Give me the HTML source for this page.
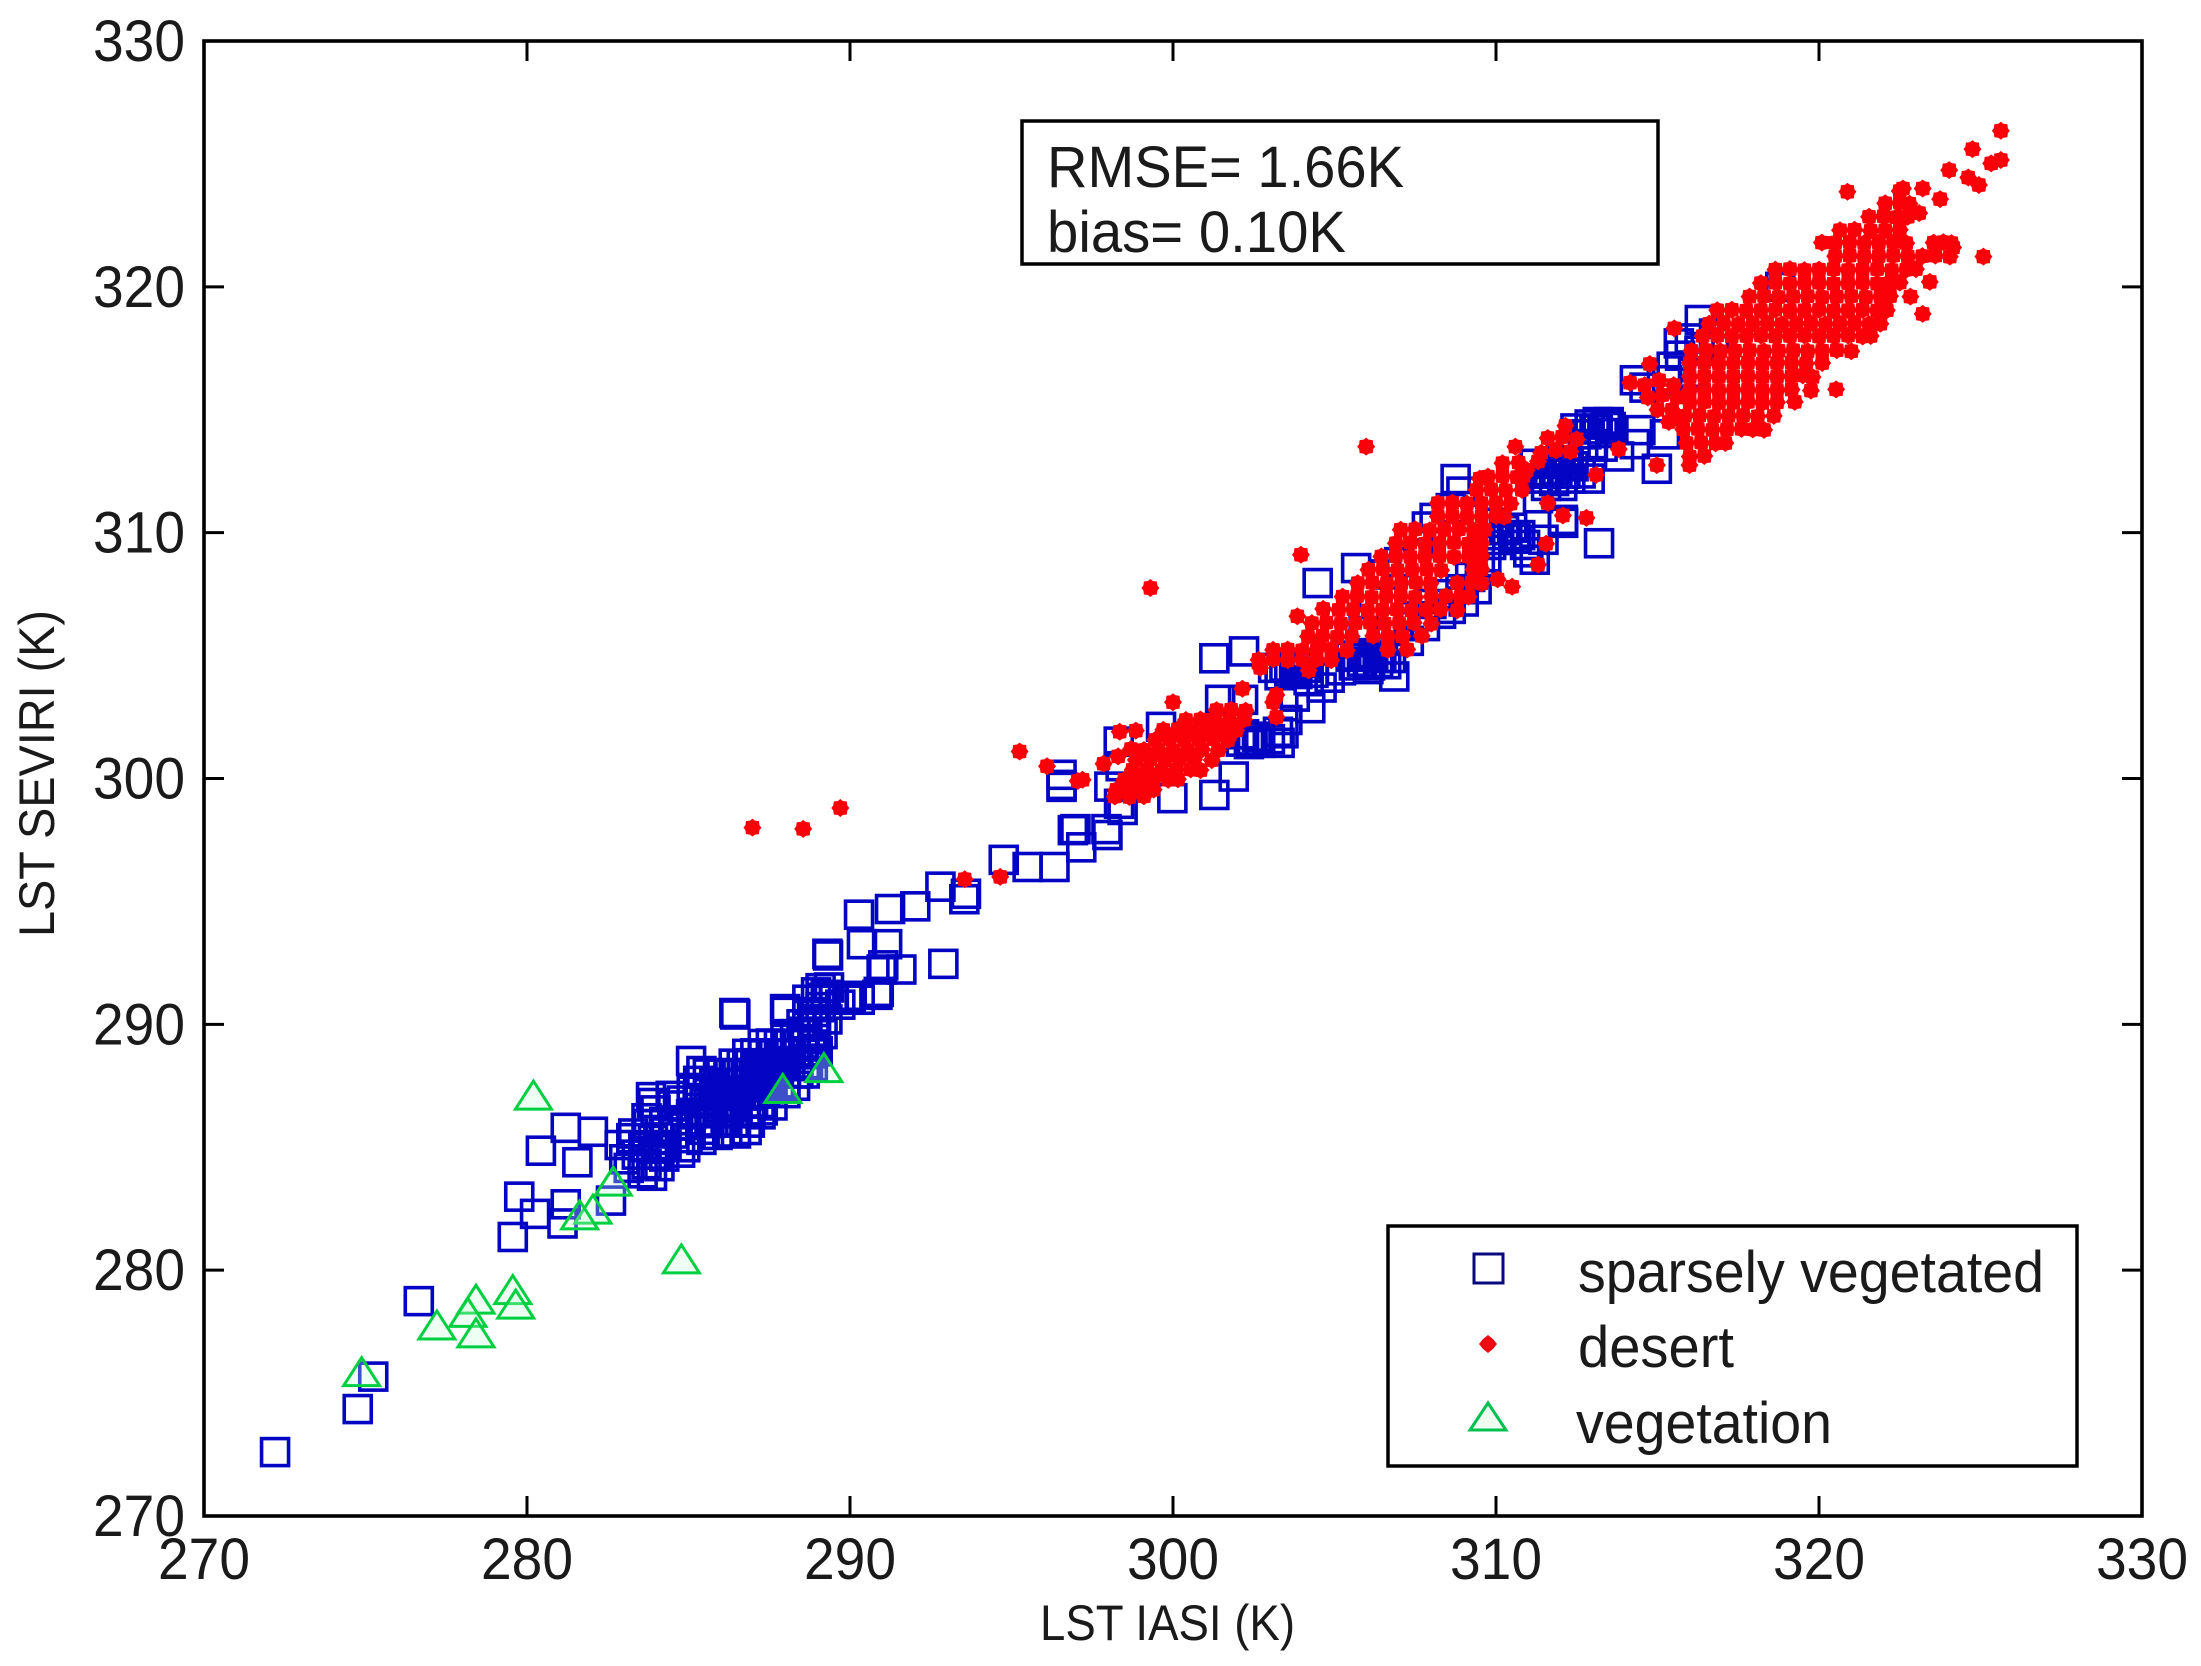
<!DOCTYPE html>
<html>
<head>
<meta charset="utf-8">
<title>LST SEVIRI vs LST IASI</title>
<style>
html,body{margin:0;padding:0;background:#fff;}
svg{display:block;}
text{font-family:"Liberation Sans",sans-serif;fill:#1a1a1a;}
</style>
</head>
<body>
<svg id="chart" xmlns="http://www.w3.org/2000/svg" width="2201" height="1666" viewBox="0 0 2201 1666">
  <rect x="0" y="0" width="2201" height="1666" fill="#ffffff"/>
  <g id="marks-sparse"></g>
  <g id="marks-desert"></g>
  <g id="marks-veg"></g>
  <g id="axes"></g>
  <text x="1040" y="1640" font-size="50" textLength="255" lengthAdjust="spacingAndGlyphs">LST IASI (K)</text>
  <text transform="translate(54,937) rotate(-90)" font-size="50" textLength="327" lengthAdjust="spacingAndGlyphs">LST SEVIRI (K)</text>
  <g>
    <rect x="1022" y="121" width="636" height="143" fill="#ffffff" stroke="#000000" stroke-width="3.5"/>
    <text x="1047" y="187" font-size="58" textLength="357" lengthAdjust="spacingAndGlyphs">RMSE= 1.66K</text>
    <text x="1047" y="252" font-size="58" textLength="299" lengthAdjust="spacingAndGlyphs">bias= 0.10K</text>
  </g>
  <g>
    <rect x="1388" y="1226" width="689" height="240" fill="#ffffff" stroke="#000000" stroke-width="3.5"/>
    <rect x="1474" y="1254" width="29" height="29" fill="none" stroke="#08087f" stroke-width="3"/>
    <polygon points="1488,1335 1493,1339 1497,1344 1493,1349 1488,1353 1483,1349 1479,1344 1483,1339" fill="#ee0a14"/>
    <polygon points="1488,1403 1470,1430 1506,1430" fill="#eefff2" stroke="#00c050" stroke-width="3"/>
    <text x="1578" y="1292" font-size="58" textLength="466" lengthAdjust="spacingAndGlyphs">sparsely vegetated</text>
    <text x="1578" y="1367" font-size="58" textLength="156" lengthAdjust="spacingAndGlyphs">desert</text>
    <text x="1576" y="1443" font-size="58" textLength="256" lengthAdjust="spacingAndGlyphs">vegetation</text>
  </g>
</svg>
<script>
const xTicks=[270,280,290,300,310,320,330];
const yTicks=[270,280,290,300,310,320,330];

const sparselyVegetated=[
[272.2,272.6],[274.76,274.35],[275.24,275.67],[276.65,278.74],[279.56,281.35],[279.76,282.99],[280.25,282.29],[281.1,281.9],[281.2,282.68],[281.56,284.39],[280.43,284.86],[281.2,285.79],[282.04,285.63],[282.6,282.83],[283.87,283.84],
[283.58,283.94],[283.23,285.37],[283.01,284.51],[283.88,286.8],[284.45,287.09],[283.75,285.94],[284.32,285.09],[284.1,284.23],[284.97,285.37],[286.45,290.4],[288.02,290.51],[289.1,291.08],[289.32,292.8],[290.28,294.46],[290.37,293.26],[291.15,293.26],[291.24,294.69],[292.02,294.8],[292.8,295.6],[290.98,292.23],[291.59,292.23],[290.85,291.2],[290.02,291.08],[292.89,292.46],[293.54,295.09],[293.59,295.31],[294.76,296.69],[295.5,296.4],[296.33,296.4],[296.55,299.66],[296.98,297.94],[297.16,297.2],[297.94,297.94],[298.33,298.97],
[286.42,290.46],[287.99,290.62],[289.3,292.87],[285.08,288.51],[283.84,287.04],[284.25,286.02],[287.23,286.34],[286.47,285.56],[285.5,285.71],[284.74,284.78],[283.29,285.56],[282.87,285.09],[283.7,284.31],[283.15,284.16],[284.25,284.62],[289.09,291.47],[289.09,290.7],[289.92,291.16],[290.89,291.32],[291.03,292.4],[288.68,290.38],[288.68,291.0],[283.7,286.18],[283.98,286.5],[285.08,286.34],[284.53,285.56],[285.77,286.02],
[285.4,286.0],[285.65,285.98],[285.9,286.05],[286.15,286.0],[286.4,286.02],
[285.52,286.4],[285.77,286.42],[286.02,286.38],[286.27,286.4],[286.52,286.43],[286.77,286.4],[286.92,286.38],
[285.5,286.8],[285.75,286.78],[286.0,286.82],[286.25,286.8],[286.5,286.8],[286.75,286.77],[287.0,286.82],[287.2,286.8],
[285.62,287.2],[285.87,287.22],[286.12,287.18],[286.37,287.2],[286.62,287.22],[286.87,287.2],[287.12,287.18],[287.37,287.2],[287.6,287.22],
[285.8,287.6],[286.05,287.58],[286.3,287.62],[286.55,287.6],[286.8,287.6],[287.05,287.58],[287.3,287.62],[287.55,287.6],[287.8,287.6],[288.0,287.58],
[286.02,288.0],[286.27,288.02],[286.52,287.98],[286.77,288.0],[287.02,288.02],[287.27,288.0],[287.52,287.98],[287.77,288.0],[288.02,288.02],[288.4,288.0],
[286.4,288.4],[286.65,288.38],[286.9,288.42],[287.15,288.4],[287.4,288.4],[287.65,288.38],[287.9,288.42],[288.15,288.4],[288.4,288.4],[288.7,288.38],
[286.82,288.8],[287.07,288.82],[287.32,288.78],[287.57,288.8],[287.82,288.82],[288.07,288.8],[288.32,288.78],[288.57,288.8],[288.8,288.82],
[287.3,289.2],[287.55,289.22],[287.8,289.18],[288.05,289.2],[288.3,289.2],[288.55,289.22],[288.9,289.18],
[284.3,285.6],[284.6,286.1],[284.9,285.9],[285.2,286.4],[284.5,286.7],[284.8,286.9],[285.1,287.3],[285.35,286.9],[285.3,287.7],[285.4,288.1],[285.6,288.0],[283.9,285.3],[284.2,285.0],[283.6,285.0],[283.4,284.7],[284.0,284.7],[284.9,285.0],[285.4,285.3],[285.9,285.5],[286.2,285.6],[286.8,285.7],[286.9,286.0],[287.3,286.5],[287.6,286.7],[288.0,287.2],[288.3,287.5],[288.6,288.0],[288.85,288.3],[289.0,288.9],[289.15,289.6],[288.9,289.7],[288.6,289.7],[288.3,289.6],[288.0,289.6],[289.3,290.2],[288.95,290.1],[288.5,290.0],[289.25,291.2],[289.35,291.5],[288.95,291.3],[289.5,291.0],[289.7,290.8],[290.3,291.0],[288.9,290.5],
[296.9,297.9],[297.97,297.7],[298.44,298.72],[298.03,299.67],[296.55,299.74],[296.55,300.15],[298.32,301.5],[298.38,300.5],[299.63,302.1],[299.98,299.2],[301.28,299.33],[301.88,300.08],[301.46,303.2],[302.17,303.2],[301.28,304.89],[302.2,305.17],[303.42,301.84],[303.54,302.38],[304.25,302.86],[303.77,303.33],[306.85,304.15],[304.48,307.95],[305.67,308.56],[307.86,310.25],[308.75,312.18],[308.93,311.67],[313.19,309.57],[311.47,309.71],[312.07,310.52],
[302.1,301.5],[302.35,301.4],[302.6,301.7],[302.2,301.8],[302.45,301.55],[302.7,301.45],[303.0,301.6],[303.3,301.45],[303.25,301.9],
[303.3,304.2],[303.6,304.35],[303.85,304.25],[304.1,304.5],[303.45,304.55],[303.75,304.6],[304.0,304.7],[304.35,304.3],[303.1,304.5],[304.6,303.7],[304.2,304.0],
[305.6,304.6],[305.85,304.75],[306.1,304.6],[306.35,304.7],[306.6,304.65],[305.7,305.0],[305.95,305.1],[306.2,305.0],[306.45,304.9],[305.5,304.95],[306.75,304.9],[306.05,304.45],[304.85,304.1],[305.2,304.4],
[306.5,305.8],[307.0,306.2],[307.5,306.6],[308.0,307.1],[308.5,307.5],[308.3,306.7],[308.9,307.7],[309.2,308.2],[309.5,308.8],[309.7,309.0],[307.3,305.6],[307.8,306.2],[308.6,306.9],[309.0,307.2],[306.2,307.4],[306.6,308.3],[307.0,308.8],[307.6,309.6],[308.1,310.6],[308.6,311.0],[305.9,306.0],[309.4,307.7],
[310.1,309.7],[310.35,309.9],[310.6,309.75],[310.25,310.1],[310.5,310.2],[310.75,309.9],[310.0,310.4],[309.85,309.5],[310.9,309.5],[311.0,309.2],[311.2,308.9],
[311.55,311.9],[311.8,312.1],[312.05,311.9],[312.3,312.2],[311.65,312.4],[311.9,312.55],[312.15,312.4],[312.4,312.7],[311.75,312.85],[312.0,312.95],[312.25,312.8],[311.45,312.2],[311.2,312.8],[311.3,311.4],[312.08,310.4],[312.62,312.41],[312.9,312.2],
[312.8,314.0],[313.05,314.2],[313.3,314.05],[313.55,314.3],[312.9,314.4],[313.15,314.5],[313.4,314.4],[312.46,314.24],[313.49,314.5],[312.7,313.55],[313.0,313.6],[313.3,313.5],[313.81,313.1],[314.3,313.6],[314.47,314.17],[315.23,314.0],[314.98,312.6],
[316.31,318.65],[316.75,318.1],[315.66,317.7],[315.44,316.75],[314.3,316.2],[314.6,315.9],[315.3,316.2],[315.7,317.2],[316.0,317.9],[316.3,317.4],[316.1,316.5],[318.8,320.0]
];

const desert=[
[286.98,298.0],[288.55,297.95],[289.7,298.8],[293.55,295.9],[294.65,296.0],[295.25,301.1],[296.1,300.5],[297.05,299.9],[297.2,299.95],[297.85,300.6],[298.3,300.9],[298.7,301.2],[298.35,301.9],[298.85,301.95],[299.3,307.75],[300.0,303.1],[301.25,302.4],[302.15,303.65],[302.7,304.5],[303.1,303.1],[303.2,303.4],[303.2,302.5],[303.96,309.1],[305.98,313.5],[303.85,306.6],[304.65,306.9],[304.2,304.4],[304.5,305.6],[310.6,313.5],[309.5,312.2],[312.8,310.6],[312.07,310.7],[311.55,309.55],[311.3,308.7],[310.5,307.8],[310.05,308.1],[311.6,311.2],[313.8,313.4],[313.1,312.35],
[301.35,302.78],[301.8,302.8],[302.25,302.76],
[300.4,302.38],[300.85,302.4],[301.3,302.36],[301.75,302.38],[302.2,302.4],
[299.7,301.98],[300.15,302.0],[300.6,301.96],[301.05,301.98],[301.5,302.0],[301.95,301.96],
[299.45,301.57],[299.9,301.6],[300.35,301.55],[300.8,301.57],[301.25,301.6],[301.7,301.56],
[299.1,301.16],[299.55,301.18],[300.0,301.14],[300.45,301.16],[300.9,301.18],[301.4,301.15],
[298.85,300.76],[299.3,300.78],[299.75,300.74],[300.2,300.76],[300.65,300.78],[301.2,300.75],
[298.75,300.35],[299.2,300.37],[299.65,300.33],[300.1,300.35],[300.55,300.37],[300.85,300.34],
[298.5,299.95],[298.95,299.97],[299.4,299.93],[299.85,299.95],[300.15,299.97],
[298.25,299.54],[298.7,299.56],[299.15,299.52],[299.4,299.55],
[298.2,299.27],[298.65,299.25],[299.1,299.28],
[310.2,312.83],[310.7,312.85],
[309.75,312.28],[310.2,312.3],[310.65,312.26],[310.85,312.3],
[309.4,311.74],[309.85,311.76],[310.3,311.72],[310.8,311.74],
[308.2,311.2],[308.65,311.22],[309.1,311.18],[309.55,311.2],[310.0,311.22],[310.45,311.18],
[308.2,310.66],[308.65,310.68],[309.1,310.64],[309.55,310.66],[310.0,310.68],[310.25,310.64],
[307.05,310.12],[307.5,310.14],[307.95,310.1],[308.4,310.12],[308.85,310.14],[309.3,310.1],[309.65,310.12],
[306.9,309.57],[307.35,309.59],[307.8,309.55],[308.25,309.57],[308.7,309.59],[309.15,309.55],[309.55,309.57],
[306.45,309.03],[306.9,309.05],[307.35,309.01],[307.8,309.03],[308.25,309.05],[308.7,309.01],[309.15,309.03],[309.55,309.05],
[306.05,308.49],[306.5,308.51],[306.95,308.47],[307.4,308.49],[307.85,308.51],[308.3,308.47],[309.3,308.49],[309.55,308.51],
[305.72,307.95],[306.17,307.97],[306.62,307.93],[307.07,307.95],[307.52,307.97],[307.97,307.93],[308.8,307.95],[309.25,307.97],[309.55,307.93],
[305.25,307.4],[305.7,307.42],[306.15,307.38],[306.6,307.4],[307.05,307.42],[307.5,307.38],[308.0,307.4],[308.45,307.42],[308.9,307.38],[309.15,307.4],
[305.13,306.86],[305.58,306.88],[306.03,306.84],[306.48,306.86],[306.93,306.88],[307.38,306.84],[307.83,306.86],[308.28,306.88],[308.8,306.84],
[304.3,306.32],[304.75,306.34],[305.2,306.3],[305.65,306.32],[306.1,306.34],[306.55,306.3],[307.0,306.32],[307.45,306.34],[308.0,306.3],
[304.18,305.78],[304.63,305.8],[305.08,305.76],[305.53,305.78],[306.2,305.8],[306.65,305.76],[307.1,305.78],[307.7,305.8],
[303.1,305.23],[303.55,305.25],[304.0,305.21],[304.45,305.23],[304.9,305.25],[305.38,305.21],[306.65,305.23],[307.25,305.25],
[302.65,304.83],[303.1,304.85],[303.55,304.81],[304.0,304.83],[304.45,304.85],[304.9,304.81],
[311.4,313.25],[311.85,313.35],[312.3,313.3],[311.6,313.85],[312.05,313.9],[312.5,313.8],[312.15,314.35],[311.3,312.9],[310.95,312.55],
[315.52,318.31],[314.76,316.86],[314.98,312.75],[315.99,312.75],[320.53,315.83],[323.21,318.9],[322.83,319.6],[323.43,320.2],[325.09,321.23],[320.09,321.8],[323.1,323.0],[323.75,323.57],[322.6,324.0],[323.21,324.0],[320.88,323.87],[324.95,324.14],[324.62,324.45],[324.03,324.75],[325.63,325.16],[325.33,325.02],[324.75,325.6],[325.63,326.35],
[322.5,323.9],
[322.05,323.4],[322.5,323.42],[322.8,323.38],
[321.55,322.85],[322.0,322.87],[322.4,322.83],[322.75,322.85],
[320.65,322.3],[321.1,322.32],[321.6,322.28],[322.05,322.3],[322.5,322.32],
[320.5,321.8],[320.95,321.82],[321.4,321.78],[321.85,321.8],[322.3,321.82],[322.7,321.78],[323.55,321.8],[323.85,321.82],[324.1,321.78],
[320.5,321.25],[320.95,321.27],[321.4,321.23],[321.85,321.25],[322.3,321.27],[322.75,321.23],[323.2,321.25],[323.6,321.27],[324.05,321.23],[324.15,321.6],
[318.65,320.7],[319.1,320.72],[319.55,320.68],[320.0,320.7],[320.45,320.72],[320.9,320.68],[321.35,320.7],[321.8,320.72],[322.25,320.68],[322.7,320.7],[323.0,320.72],
[318.2,320.15],[318.65,320.17],[319.1,320.13],[319.55,320.15],[320.0,320.17],[320.45,320.13],[320.9,320.15],[321.35,320.17],[321.8,320.13],[322.2,320.15],[322.5,320.17],
[317.85,319.6],[318.3,319.62],[318.75,319.58],[319.2,319.6],[319.65,319.62],[320.1,319.58],[320.55,319.6],[321.0,319.62],[321.45,319.58],[321.9,319.6],[322.2,319.62],
[316.85,319.05],[317.3,319.07],[317.75,319.03],[318.2,319.05],[318.65,319.07],[319.1,319.03],[319.55,319.05],[320.0,319.07],[320.45,319.03],[320.9,319.05],[321.35,319.07],[321.8,319.03],[322.1,319.05],
[316.6,318.5],[317.05,318.52],[317.5,318.48],[317.95,318.5],[318.4,318.52],[318.85,318.48],[319.3,318.5],[319.75,318.52],[320.2,318.48],[320.65,318.5],[321.1,318.52],[321.55,318.48],[321.9,318.5],
[316.4,318.0],[316.85,318.02],[317.3,317.98],[317.75,318.0],[318.2,318.02],[318.65,317.98],[319.1,318.0],[319.55,318.02],[320.0,317.98],[320.45,318.0],[320.9,318.02],[321.35,317.98],[321.6,318.0],
[316.05,317.4],[316.5,317.42],[316.95,317.38],[317.4,317.4],[317.85,317.42],[318.3,317.38],[318.75,317.4],[319.2,317.42],[319.65,317.38],[320.1,317.4],[320.55,317.42],[321.0,317.38],
[316.0,316.9],[316.45,316.92],[316.9,316.88],[317.35,316.9],[317.8,316.92],[318.25,316.88],[318.7,316.9],[319.15,316.92],[319.6,316.88],[320.1,316.9],
[316.0,316.35],[316.45,316.37],[316.9,316.33],[317.35,316.35],[317.8,316.37],[318.25,316.33],[318.7,316.35],[319.15,316.37],[319.8,316.33],[319.5,316.4],
[316.0,315.8],[316.45,315.82],[316.9,315.78],[317.35,315.8],[317.8,315.82],[318.25,315.78],[318.7,315.8],[319.15,315.82],[319.75,315.78],
[316.0,315.3],[316.45,315.32],[316.9,315.28],[317.35,315.3],[317.8,315.32],[318.25,315.28],[318.7,315.3],[319.25,315.32],
[315.85,314.75],[316.3,314.77],[316.75,314.73],[317.2,314.75],[317.65,314.77],[318.1,314.73],[318.6,314.75],
[315.8,314.2],[316.25,314.22],[316.7,314.18],[317.15,314.2],[317.6,314.22],[318.3,314.18],[317.95,314.2],
[315.9,313.65],[316.35,313.67],[316.8,313.63],[317.1,313.65],
[316.0,313.1],[316.45,313.12],
[314.15,316.1],[314.6,316.0],[315.05,316.2],[315.5,316.0],[314.7,315.5],[315.15,315.6],[315.6,315.5],[315.0,315.0],[315.45,315.0],[315.35,314.5],[315.7,314.6]
];

const vegetation=[
[280.2,287.08],[284.78,280.42],[289.19,288.2],[287.92,287.35],[282.67,283.58],[282.04,282.44],[281.63,282.21],[279.56,279.17],[279.65,278.58],[278.42,278.78],[278.17,278.24],[277.21,277.73],[278.42,277.41],[274.88,275.83]
];

function xScale(v){return 204+(v-270)*(2142-204)/60;}
function yScale(v){return 1516-(v-270)*(1516-41)/60;}

const NS='http://www.w3.org/2000/svg';
function make(tag,attrs,parent){
  const el=document.createElementNS(NS,tag);
  for(const k in attrs){el.setAttribute(k,attrs[k]);}
  parent.appendChild(el);
  return el;
}

const sparseGroup=document.getElementById('marks-sparse');
sparselyVegetated.forEach(function(p){
  const cx=xScale(p[0]),cy=yScale(p[1]);
  const el=make('rect',{x:cx-13.5,y:cy-13.5,width:27,height:27,fill:'none',stroke:'#0404c4','stroke-width':3.6},sparseGroup);
  
  
});

const desertGroup=document.getElementById('marks-desert');
const desertShape=[[0,-9],[2.5,-7],[6.5,-6.5],[7,-2.5],[9,0],[7,2.5],[6.5,6.5],[2.5,7],[0,9],[-2.5,7],[-6.5,6.5],[-7,2.5],[-9,0],[-7,-2.5],[-6.5,-6.5],[-2.5,-7]];
desert.forEach(function(p){
  const cx=xScale(p[0]),cy=yScale(p[1]);
  const pts=desertShape.map(function(o){return (cx+o[0])+','+(cy+o[1]);}).join(' ');
  const el=make('polygon',{points:pts,fill:'#fa0008'},desertGroup);
  
  
});

const vegGroup=document.getElementById('marks-veg');
vegetation.forEach(function(p){
  const cx=xScale(p[0]),cy=yScale(p[1]);
  const pts=[cx+','+(cy-15),(cx-18)+','+(cy+13),(cx+18)+','+(cy+13)].join(' ');
  const el=make('polygon',{points:pts,fill:'#c8ffd7','fill-opacity':0.3,stroke:'#00d040','stroke-width':3},vegGroup);
  
  
});

const axes=document.getElementById('axes');
const frame=make('rect',{x:204,y:41,width:1938,height:1475,fill:'none',stroke:'#000','stroke-width':3.6},axes);



xTicks.forEach(function(t){
  const x=xScale(t);
  if(t!==270&&t!==330){
    const a=make('line',{x1:x,x2:x,y1:1516,y2:1496,stroke:'#000','stroke-width':3},axes);
    
    
    const b=make('line',{x1:x,x2:x,y1:41,y2:61,stroke:'#000','stroke-width':3},axes);
    
    
  }
  const lab=make('text',{x:x-46,y:1579,'font-size':58,textLength:92,lengthAdjust:'spacingAndGlyphs'},axes);
  
  
  lab.textContent=String(t);
});

yTicks.forEach(function(t){
  const y=yScale(t);
  if(t!==270&&t!==330){
    const a=make('line',{x1:204,x2:224,y1:y,y2:y,stroke:'#000','stroke-width':3},axes);
    
    
    const b=make('line',{x1:2142,x2:2122,y1:y,y2:y,stroke:'#000','stroke-width':3},axes);
    
    
  }
  const lab=make('text',{x:93,y:y+20,'font-size':58,textLength:92,lengthAdjust:'spacingAndGlyphs'},axes);
  
  
  lab.textContent=String(t);
});
</script>
</body>
</html>
